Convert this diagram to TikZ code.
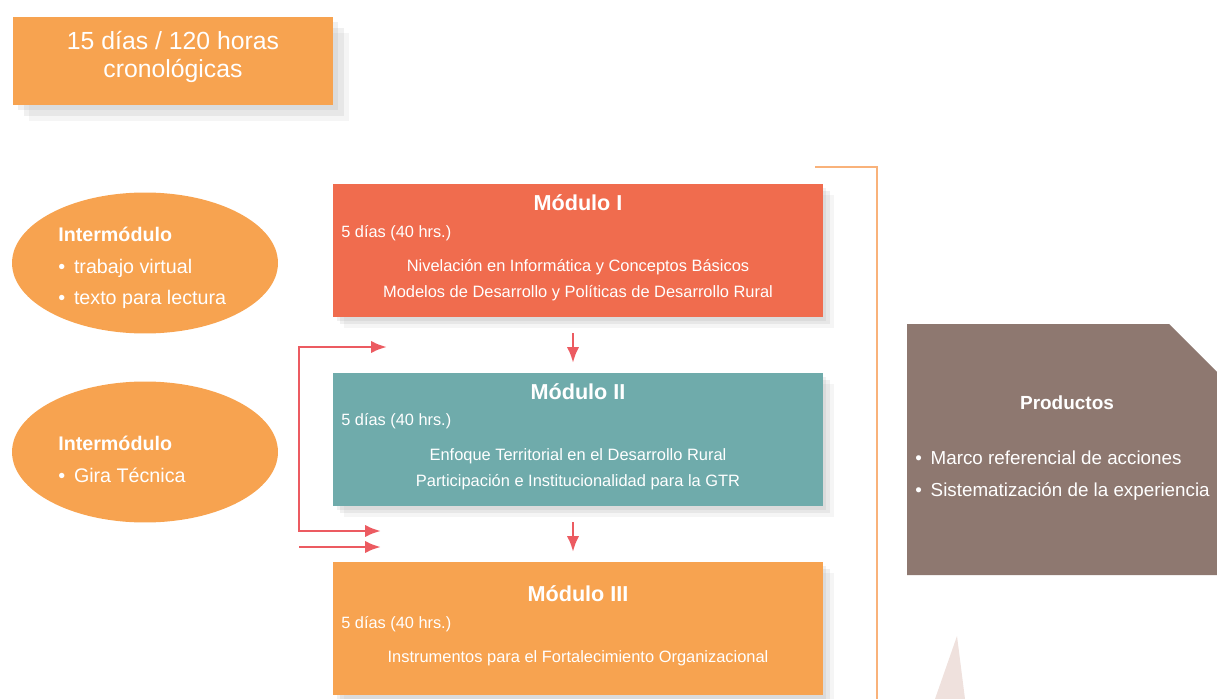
\documentclass[tikz,border=0pt]{standalone}
\usepackage{fontspec}
\setmainfont{Liberation Sans}
\usepackage{tikz}
\usetikzlibrary{positioning}
\usetikzlibrary{arrows.meta}
\usetikzlibrary{shapes.geometric,shadows}

\definecolor{naranja}{HTML}{F7A350}
\definecolor{rojizo}{HTML}{F06C4E}
\definecolor{verdeazul}{HTML}{6FABAB}
\definecolor{cafe}{HTML}{8E7870}
\definecolor{rojo}{HTML}{EC5B61}
\definecolor{linea}{HTML}{F9B27A}
\definecolor{rosa}{HTML}{EFE1DD}

\newcommand{\vineta}{\textbullet\hspace{5pt}}

\begin{document}
\begin{tikzpicture}[x=0.02cm,y=-0.02cm,>={Latex[length=9pt,width=7pt]},
  sombra/.style={drop shadow={shadow xshift=2pt,shadow yshift=-2pt,opacity=.12},
    drop shadow={shadow xshift=4pt,shadow yshift=-4pt,opacity=.12},
    drop shadow={shadow xshift=6pt,shadow yshift=-6pt,opacity=.08}},
  caja/.style={rectangle,minimum width=9.8cm,minimum height=2.66cm,inner sep=0pt,sombra},
  titulo/.style={text=white,inner sep=0pt,font=\bfseries\fontsize{12.3}{14}\selectfont},
  dias/.style={text=white,anchor=west,inner sep=0pt,font=\fontsize{9.3}{11}\selectfont},
  tema/.style={text=white,align=center,inner sep=0pt,font=\fontsize{9.35}{14.8}\selectfont},
  elipse/.style={ellipse,fill=naranja,minimum width=5.32cm,minimum height=2.82cm},
  lista/.style={text=white,anchor=west,align=left,inner sep=0pt,font=\fontsize{11.2}{17.8}\selectfont},
  flecha/.style={draw=rojo,line width=1.6pt}]
\useasboundingbox (0,0) rectangle (1217,699);

% duracion total
\node[rectangle,fill=naranja,minimum width=6.4cm,minimum height=1.76cm,
  drop shadow={shadow xshift=3pt,shadow yshift=-3pt,opacity=.12},
  drop shadow={shadow xshift=6pt,shadow yshift=-6pt,opacity=.12},
  drop shadow={shadow xshift=9pt,shadow yshift=-9pt,opacity=.08}] (total) at (173,61) {};
\node[text=white,align=center,inner sep=0pt,font=\fontsize{14.1}{16}\selectfont] (totaltxt) at (173,57)
  {15 días / 120 horas\\cronológicas};

% intermodulos
\node[elipse] (int1) at (145,263) {};
\node[lista] (int1txt) at (58,268) {\textbf{Intermódulo}\\\vineta trabajo virtual\\\vineta texto para lectura};
\node[elipse] (int2) at (145,452) {};
\node[lista] (int2txt) at (58,459.5) {\textbf{Intermódulo}\\\vineta Gira Técnica};

% modulos
\node[caja,fill=rojizo] (m1) at (578,250.5) {};
\node[titulo] (m1tit) at (578,203) {Módulo I};
\node[dias] (m1dias) at (341,233.5) {5 días (40 hrs.)};
\node[tema] (m1tema) at (578,280.5) {Nivelación en Informática y Conceptos Básicos\\Modelos de Desarrollo y Políticas de Desarrollo Rural};

\node[caja,fill=verdeazul] (m2) at (578,439.5) {};
\node[titulo] (m2tit) at (578,392) {Módulo II};
\node[dias] (m2dias) at (341,421.5) {5 días (40 hrs.)};
\node[tema] (m2tema) at (578,469.5) {Enfoque Territorial en el Desarrollo Rural\\Participación e Institucionalidad para la GTR};

\node[caja,fill=naranja] (m3) at (578,628.5) {};
\node[titulo] (m3tit) at (578,594) {Módulo III};
\node[dias] (m3dias) at (341,624.5) {5 días (40 hrs.)};
\node[tema] (m3tema) at (578,658.5) {Instrumentos para el Fortalecimiento Organizacional};

% flechas
\coordinate (a1) at (573,333);
\coordinate (b1) at (573,363);
\coordinate (a2) at (573,522);
\coordinate (b2) at (573,552);
\draw[flecha,->] (a1) -- (b1);
\draw[flecha,->] (a2) -- (b2);

\coordinate (r0) at (299,347);
\coordinate (r1) at (387,347);
\coordinate (r2) at (299,531);
\coordinate (r3) at (381,531);
\coordinate (s0) at (299,547);
\coordinate (s1) at (381,547);
\draw[flecha,<->] (r1) -- (r0) -- (r2) -- (r3);
\draw[flecha,->] (s0) -- (s1);

% corchete
\coordinate (c0) at (815,167);
\coordinate (c1) at (877,167);
\coordinate (c2) at (877,699);
\draw[linea,line width=0.8pt] (c0) -- (c1) -- (c2);

% productos
\fill[cafe] (907,324) -- (1169,324) -- (1217,372) -- (1217,575) -- (907,575) -- cycle;
\node[text=white,inner sep=0pt,font=\bfseries\fontsize{10.8}{13}\selectfont] (prod) at (1067,403) {Productos};
\node[lista,font=\fontsize{10.7}{18.2}\selectfont] (prodtxt) at (915,476)
  {\vineta Marco referencial de acciones\\\vineta Sistematización de la experiencia};

% triangulo
\fill[rosa] (935,699) -- (957,636) -- (965,699) -- cycle;
\end{tikzpicture}
\end{document}
